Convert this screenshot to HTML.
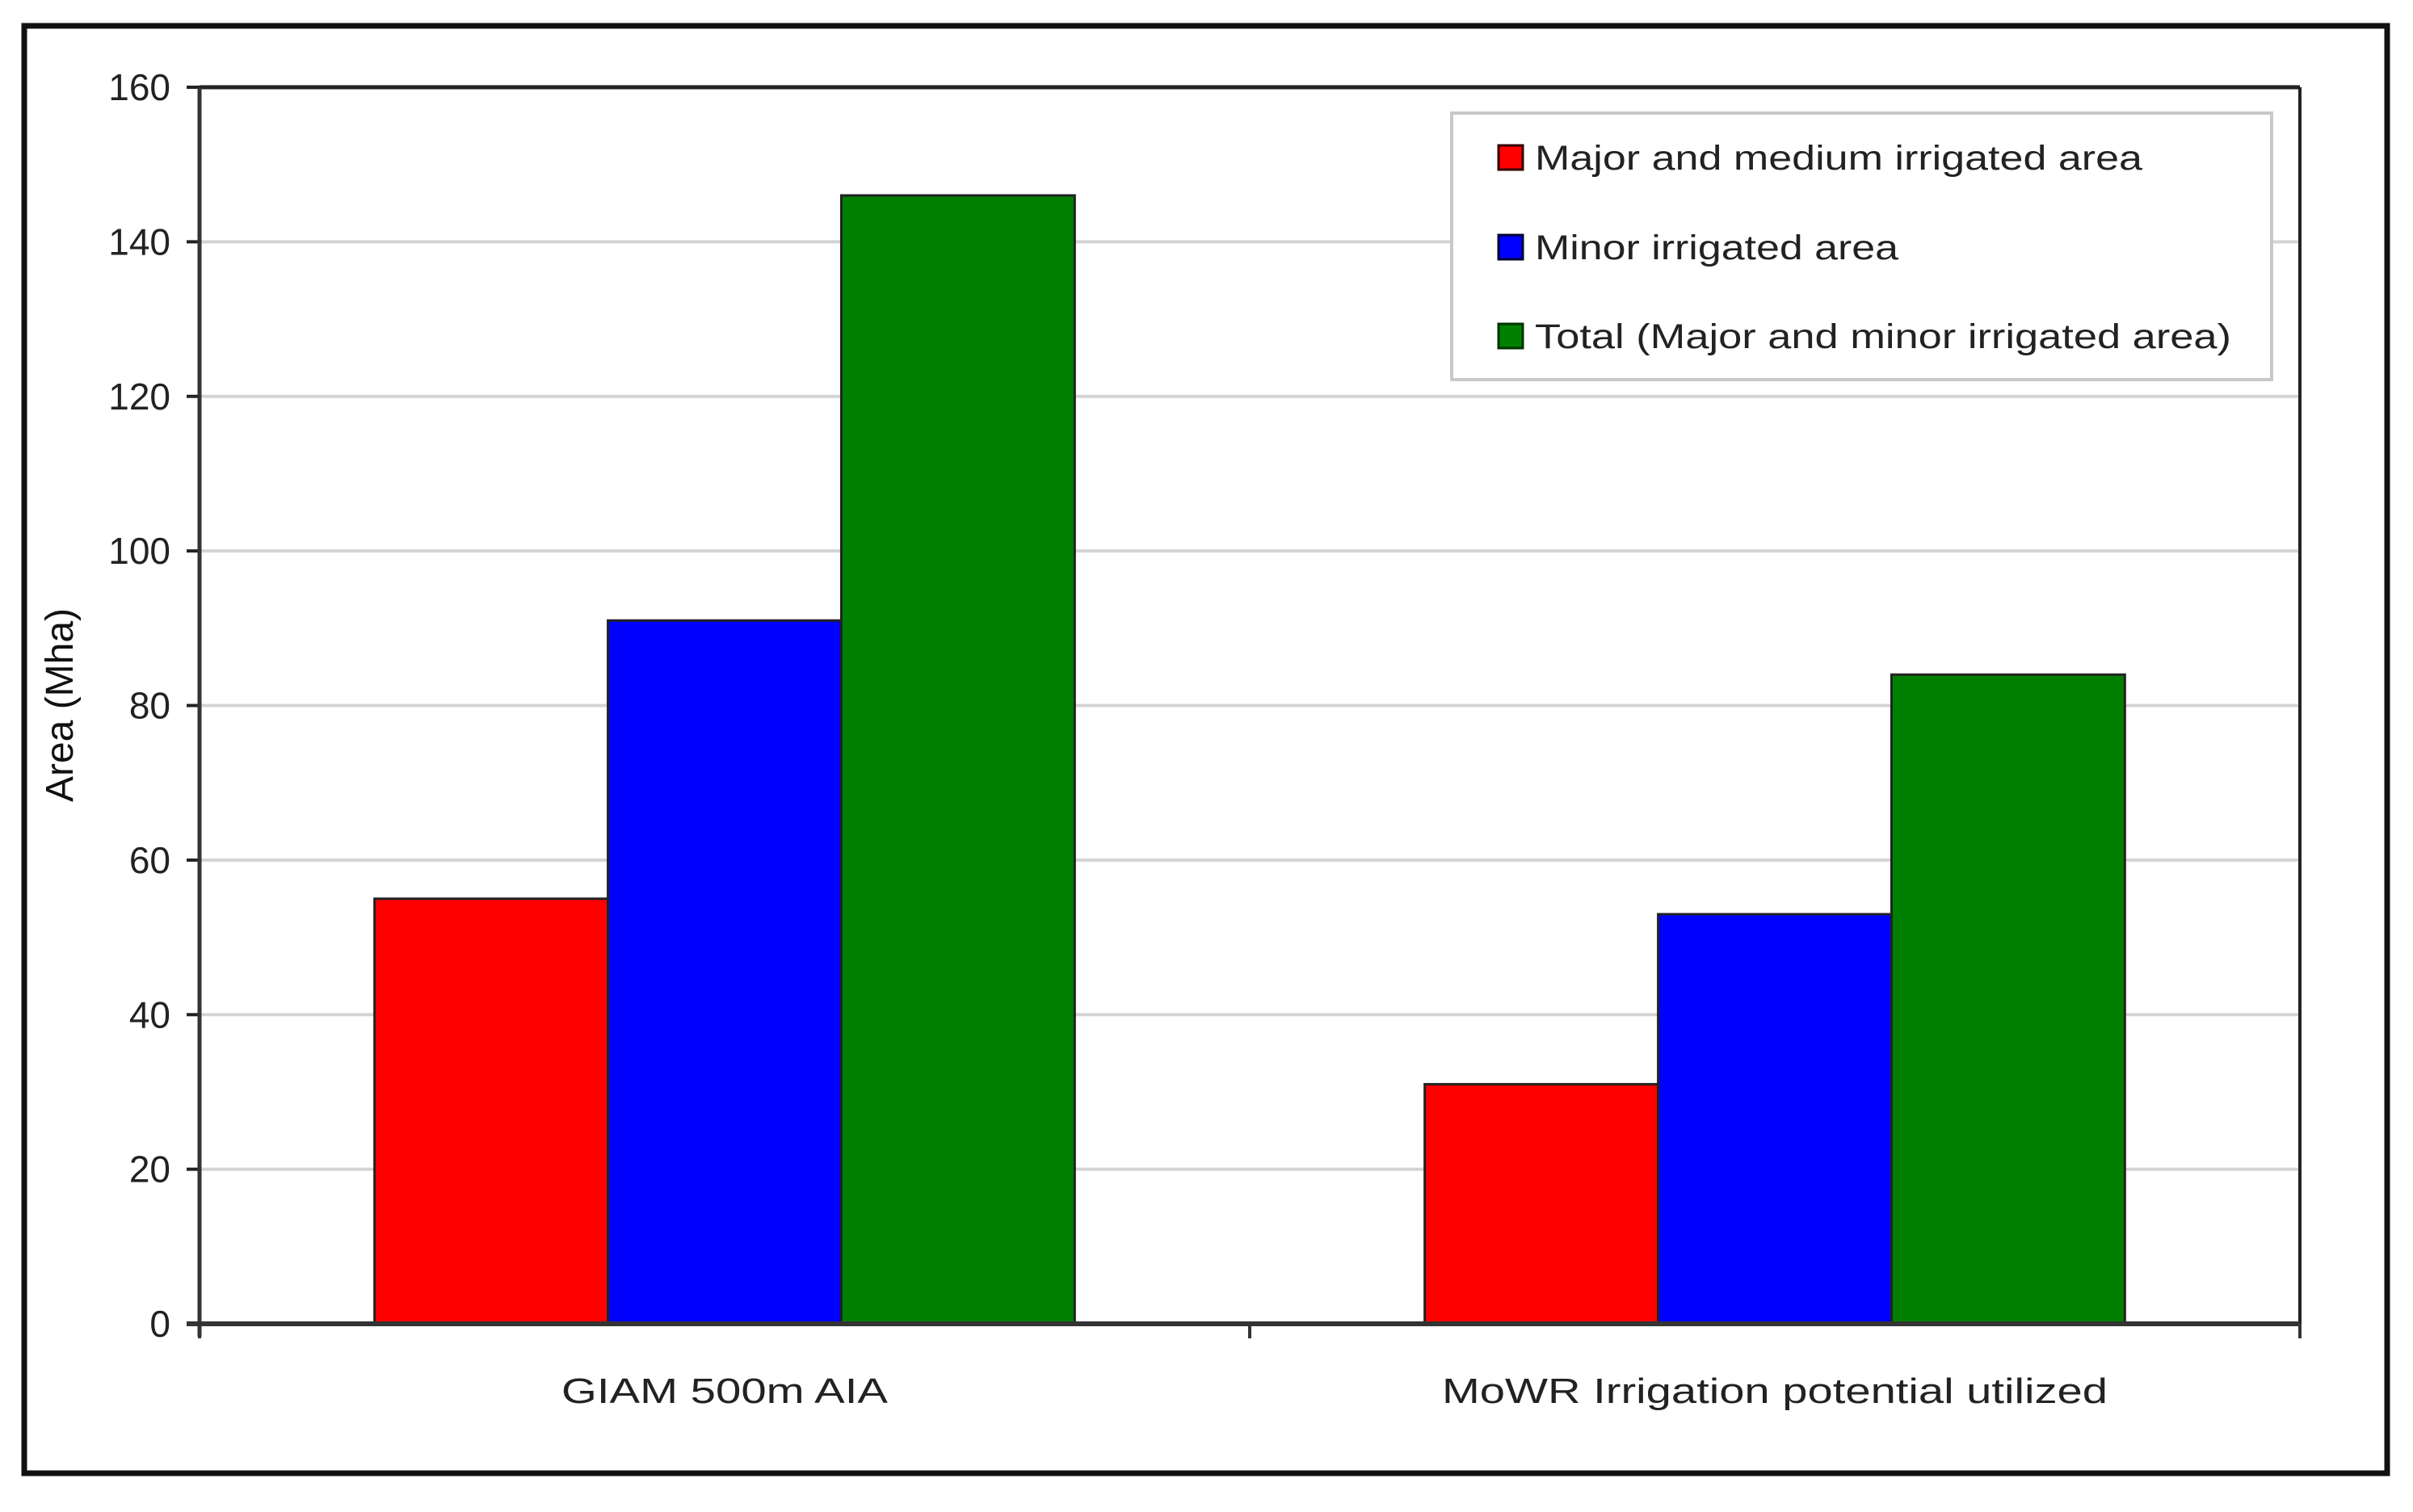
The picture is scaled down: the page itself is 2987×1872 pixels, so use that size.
<!DOCTYPE html>
<html><head><meta charset="utf-8">
<style>
html,body{margin:0;padding:0;background:#fff;}
svg{display:block;font-family:"Liberation Sans",Arial,sans-serif;}
</style></head>
<body>
<svg id="chart" width="2987" height="1872" viewBox="0 0 2987 1872" xmlns="http://www.w3.org/2000/svg">
  <rect x="0" y="0" width="2987" height="1872" fill="#fff"/>
  <rect x="30" y="32" width="2925" height="1792" fill="none" stroke="#111" stroke-width="7"/>
  <g id="grid"></g>
  <g id="bars"></g>
  <g id="axes"></g>
  <text x="90" y="873" font-size="48" fill="#111" text-anchor="middle" transform="rotate(-90 90 873)">Area (Mha)</text>
  <g>
    <rect x="1797" y="140" width="1015" height="330" fill="#fff" stroke="#c8c8c8" stroke-width="4"/>
    <g>
      <rect x="1855" y="180" width="30" height="30" fill="#ff0000" stroke="#300" stroke-width="3"/>
      <text x="1900" y="210" font-size="43" fill="#222" textLength="752" lengthAdjust="spacingAndGlyphs">Major and medium irrigated area</text>
    </g>
    <g>
      <rect x="1855" y="291" width="30" height="30" fill="#0000ff" stroke="#003" stroke-width="3"/>
      <text x="1900" y="321" font-size="43" fill="#222" textLength="450" lengthAdjust="spacingAndGlyphs">Minor irrigated area</text>
    </g>
    <g>
      <rect x="1855" y="401" width="30" height="30" fill="#008000" stroke="#030" stroke-width="3"/>
      <text x="1900" y="431" font-size="43" fill="#222" textLength="862" lengthAdjust="spacingAndGlyphs">Total (Major and minor irrigated area)</text>
    </g>
  </g>
</svg>
<script>
const categories = ["GIAM 500m AIA", "MoWR Irrigation potential utilized"];
const majorValues = [55, 31];
const minorValues = [91, 53];
const totalValues = [146, 84];
const yTicks = [0, 20, 40, 60, 80, 100, 120, 140, 160];
const labelWidths = [404, 824];

const NS = "http://www.w3.org/2000/svg";
const plotL = 247, plotR = 2847, plotT = 108, plotB = 1639, yMax = 160;
function yScale(v){ return plotB - (v / yMax) * (plotB - plotT); }
const catW = (plotR - plotL) / categories.length;
function xCat(i){ return plotL + catW * i; }
const barW = catW / 4.5;

function mk(tag, attrs, parent){
  const el = document.createElementNS(NS, tag);
  for (const k in attrs) el.setAttribute(k, attrs[k]);
  parent.appendChild(el);
  return el;
}
const grid = document.getElementById('grid');
const bars = document.getElementById('bars');
const axes = document.getElementById('axes');

yTicks.forEach(t => {
  const y = yScale(t);
  if (t > 0) {
    const g = mk('line', {x1: plotL, x2: plotR, y1: y, y2: y, stroke: t === yMax ? '#222' : '#d4d4d4', 'stroke-width': t === yMax ? 5 : 4}, grid);
    
    
  }
  const tk = mk('line', {x1: plotL - 16, x2: plotL, y1: y, y2: y, stroke: '#222', 'stroke-width': 4}, axes);
  
  
  const lb = mk('text', {x: plotL - 36, y: y + 16, 'font-size': 46, fill: '#222', 'text-anchor': 'end'}, axes);
  lb.textContent = t;
  
  
});

const series = [
  {vals: majorValues, fill: '#ff0000', name: 'major'},
  {vals: minorValues, fill: '#0000ff', name: 'minor'},
  {vals: totalValues, fill: '#008000', name: 'total'}
];
categories.forEach((c, i) => {
  const start = xCat(i) + barW * 0.75;
  series.forEach((s, j) => {
    const y = yScale(s.vals[i]);
    const r = mk('rect', {x: start + barW * j, y: y, width: barW, height: plotB - y, fill: s.fill, stroke: '#222', 'stroke-width': 3}, bars);
    
    
  });
  const lb = mk('text', {x: xCat(i) + catW / 2, y: 1737, 'font-size': 44, fill: '#222', 'text-anchor': 'middle', textLength: labelWidths[i], lengthAdjust: 'spacingAndGlyphs'}, axes);
  lb.textContent = c;
  
  
});

const ya = mk('line', {x1: plotL, x2: plotL, y1: plotT, y2: plotB + 16, stroke: '#333', 'stroke-width': 5}, axes);


const yr = mk('line', {x1: plotR, x2: plotR, y1: plotT, y2: plotB, stroke: '#222', 'stroke-width': 4}, axes);


const xa = mk('line', {x1: plotL - 16, x2: plotR, y1: plotB, y2: plotB, stroke: '#333', 'stroke-width': 6}, axes);


for (let i = 0; i <= categories.length; i++) {
  const tk = mk('line', {x1: xCat(i), x2: xCat(i), y1: plotB, y2: plotB + 18, stroke: '#333', 'stroke-width': 4}, axes);
  
  
}
</script>
</body></html>
